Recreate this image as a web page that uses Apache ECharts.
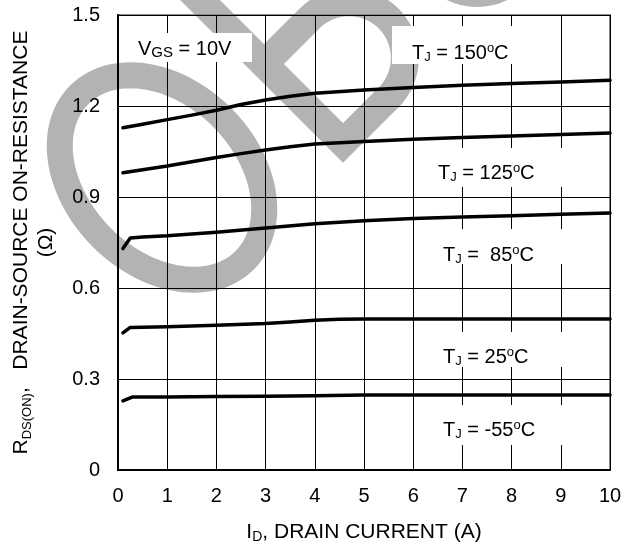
<!DOCTYPE html>
<html>
<head>
<meta charset="utf-8">
<script src="https://cdn.jsdelivr.net/npm/echarts@6/dist/echarts.min.js"></script>
<style>
  html, body { margin: 0; padding: 0; background: #fff; }
  #chart { width: 622px; height: 546px; }
</style>
</head>
<body>
<div id="chart"></div>
<script>
// Drain current (A) sample points for each junction temperature curve
const current150 = [0.1, 0.5, 1, 1.5, 2, 2.5, 3, 3.5, 4, 5, 6, 7, 8, 9, 10];
const rds150     = [1.128, 1.14, 1.155, 1.17, 1.186, 1.205, 1.22, 1.232, 1.242, 1.253, 1.261, 1.268, 1.274, 1.279, 1.285];

const current125 = [0.1, 0.5, 1, 1.5, 2, 2.5, 3, 3.5, 4, 5, 6, 7, 8, 9, 10];
const rds125     = [0.98, 0.99, 1.002, 1.016, 1.03, 1.043, 1.055, 1.066, 1.075, 1.083, 1.09, 1.096, 1.101, 1.106, 1.111];

const current85  = [0.1, 0.25, 0.5, 1, 2, 3, 4, 5, 6, 7, 8, 9, 10];
const rds85      = [0.73, 0.765, 0.768, 0.772, 0.784, 0.798, 0.812, 0.822, 0.829, 0.834, 0.838, 0.843, 0.847];

const current25  = [0.1, 0.25, 0.5, 1, 2, 3, 3.5, 4, 4.5, 5, 6, 7, 8, 9, 10];
const rds25      = [0.452, 0.47, 0.471, 0.472, 0.477, 0.483, 0.488, 0.494, 0.497, 0.498, 0.498, 0.498, 0.498, 0.498, 0.498];

const currentM55 = [0.1, 0.3, 1, 2, 3, 4, 5, 6, 7, 8, 9, 10];
const rdsM55     = [0.228, 0.241, 0.241, 0.242, 0.243, 0.245, 0.247, 0.247, 0.247, 0.247, 0.247, 0.247];

// Axis ticks
const xTicks = [0, 10, 1];      // min, max, step
const yTicks = [0, 1.5, 0.3];

// Annotation texts (rich-text markup)
const vgsLabel   = '{m|V}{sub|GS}{m| = 10V}';
const tempLabels = [
  '{m|T}{sub|J}{m| = 150}{sup|o}{m|C}',
  '{m|T}{sub|J}{m| = 125}{sup|o}{m|C}',
  '{m|T}{sub|J}{m| =  85}{sup|o}{m|C}',
  '{m|T}{sub|J}{m| = 25}{sup|o}{m|C}',
  '{m|T}{sub|J}{m| = -55}{sup|o}{m|C}'
];
const xTitle = '{m|I}{sub|D}{m|, DRAIN CURRENT (A)}';
const yTitle = '{m|R}{sub|DS(ON)}{m|,   DRAIN-SOURCE ON-RESISTANCE}\n{m|(Ω)}';

const FONT = '"Liberation Sans", Arial, sans-serif';

function pairs(xs, ys) { return xs.map((x, i) => [x, ys[i]]); }

function richStyles(size, subSize, lh) {
  return {
    m:   { fontFamily: FONT, fontSize: size, lineHeight: lh, color: '#000' },
    sub: { fontFamily: FONT, fontSize: subSize, lineHeight: 12, verticalAlign: 'bottom', color: '#000' },
    sup: { fontFamily: FONT, fontSize: Math.round(size * 0.65), lineHeight: 13, verticalAlign: 'top', color: '#000' }
  };
}

// White-backed annotation: box [x, y, w, h] and text anchor [x, centerY]
function annotation(text, box, at, size, subSize) {
  return {
    type: 'group',
    children: [
      { type: 'rect', z: 10, shape: { x: box[0], y: box[1], width: box[2], height: box[3] }, style: { fill: '#fff' } },
      { type: 'text', z: 11, x: at[0], y: at[1],
        style: { text: text, rich: richStyles(size, subSize, 22), font: size + 'px ' + FONT, fill: '#000',
                 align: 'left', verticalAlign: 'middle' } }
    ]
  };
}

// Outline helpers for the faint background logo
function ellipsePoints(cx, cy, a, b, tiltDeg) {
  const t = tiltDeg * Math.PI / 180, pts = [];
  for (let i = 0; i < 120; i++) {
    const u = i / 120 * Math.PI * 2;
    const ex = a * Math.cos(u), ey = b * Math.sin(u);
    pts.push([cx + ex * Math.cos(t) - ey * Math.sin(t), cy + ex * Math.sin(t) + ey * Math.cos(t)]);
  }
  return pts;
}
function lobePoints() {
  // straight sides of a rotated square with a rounded upper-right corner
  const pts = [[180, -20], [343, 143], [388.5, 97.5]];
  const cx = 349, cy = 58, r = 55.9;
  for (let i = 1; i < 40; i++) {
    const ang = (45 - 180 * i / 40) * Math.PI / 180;
    pts.push([cx + r * Math.cos(ang), cy + r * Math.sin(ang)]);
  }
  pts.push([309.5, 18.5], [264, 64]);
  return pts;
}

const WM = '#b3b3b3';

const chart = echarts.init(document.getElementById('chart'), null, { renderer: 'canvas' });

const lineSeries = (data) => ({
  type: 'line',
  data: data,
  showSymbol: false,
  smooth: false,
  lineStyle: { color: '#000', width: 3.5, cap: 'round', join: 'round' },
  itemStyle: { color: '#000' },
  emphasis: { disabled: true },
  z: 5
});

chart.setOption({
  animation: false,
  backgroundColor: '#fff',
  grid: {
    left: 118, right: 12, top: 15, bottom: 76,
    outerBoundsMode: 'none',
    containLabel: false,
    show: true, borderColor: '#8a8a8a', borderWidth: 2, backgroundColor: 'transparent'
  },
  xAxis: {
    type: 'value',
    min: xTicks[0], max: xTicks[1], interval: xTicks[2],
    axisLine: { show: true, onZero: false, lineStyle: { color: '#000', width: 2 } },
    axisTick: { show: false },
    splitLine: { show: true, lineStyle: { color: '#000', width: 1 } },
    axisLabel: { color: '#000', fontFamily: FONT, fontSize: 20, margin: 16 },
    name: xTitle,
    nameLocation: 'middle',
    nameGap: 50,
    nameTextStyle: { rich: richStyles(21, 14, 24), fontFamily: FONT, fontSize: 21, color: '#000' }
  },
  yAxis: {
    type: 'value',
    min: yTicks[0], max: yTicks[1], interval: yTicks[2],
    axisLine: { show: true, onZero: false, lineStyle: { color: '#000', width: 2 } },
    axisTick: { show: false },
    splitLine: { show: true, lineStyle: { color: '#000', width: 1 } },
    axisLabel: { color: '#000', fontFamily: FONT, fontSize: 20, margin: 18 },
    name: yTitle,
    nameLocation: 'middle',
    nameRotate: 90,
    nameGap: 59,
    nameTextStyle: { rich: richStyles(21, 13, 25), fontFamily: FONT, fontSize: 21, color: '#000', lineHeight: 25 }
  },
  graphic: [
    // faint logo drawn beneath the grid
    { type: 'polygon', z: -10, silent: true,
      shape: { points: ellipsePoints(162, 177.5, 117, 85, 45) },
      style: { fill: 'none', stroke: WM, lineWidth: 26 } },
    { type: 'polyline', z: -10, silent: true,
      shape: { points: lobePoints() },
      style: { fill: 'none', stroke: WM, lineWidth: 28, lineJoin: 'miter', miterLimit: 10 } },
    { type: 'circle', z: -10, silent: true,
      shape: { cx: 477, cy: -60, r: 53 },
      style: { fill: 'none', stroke: WM, lineWidth: 28 } },

    annotation(vgsLabel,      [120, 33, 132, 29], [138, 49], 20, 15),
    annotation(tempLabels[0], [392, 26, 140, 38], [412, 53], 20, 13),
    annotation(tempLabels[1], [420, 148, 165, 39], [438, 173], 20, 13),
    annotation(tempLabels[2], [420, 229, 165, 35], [443, 255], 20, 13),
    annotation(tempLabels[3], [420, 332, 165, 35], [443, 357], 20, 13),
    annotation(tempLabels[4], [420, 405, 165, 40], [443, 430], 20, 13)
  ],
  series: [
    lineSeries(pairs(current150, rds150)),
    lineSeries(pairs(current125, rds125)),
    lineSeries(pairs(current85, rds85)),
    lineSeries(pairs(current25, rds25)),
    lineSeries(pairs(currentM55, rdsM55))
  ]
});
</script>
</body>
</html>
